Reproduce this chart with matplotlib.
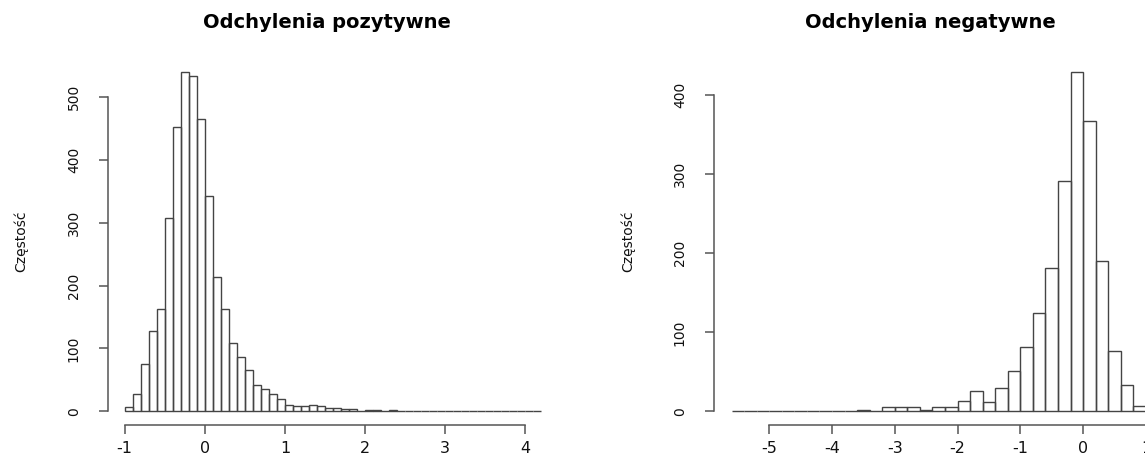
import numpy as np
import matplotlib
matplotlib.use('Agg')
import matplotlib.pyplot as plt

plt.rcParams['axes.unicode_minus'] = False # R prints a plain hyphen

# counts
pos_start = -1.0 # first break, positive deviations
pos_width = 0.1 # bin width
pos_counts = [7, 28, 75, 127, 163, 307, 452, 540, 533, 465,
              342, 214, 163, 109, 86, 66, 42, 36, 27, 19,
              10, 9, 9, 10, 8, 6, 5, 4, 4, 1,
              2, 3, 1, 3, 1, 1, 0, 0, 0, 1,
              0, 0, 0, 0, 1, 0, 1, 0, 0, 1,
              0, 1]
pos_xticks = [-1, 0, 1, 2, 3, 4]
pos_yticks = [0, 100, 200, 300, 400, 500]

neg_start = -5.6 # first break, negative deviations
neg_width = 0.2
neg_counts = [1, 0, 0, 0, 1, 1, 1, 0, 0, 1,
              2, 0, 6, 5, 5, 2, 5, 6, 13, 26,
              12, 29, 51, 81, 124, 182, 292, 430, 368, 190,
              76, 33, 7]
neg_xticks = [-5, -4, -3, -2, -1, 0, 1]
neg_yticks = [0, 100, 200, 300, 400]

W, H = 1145, 457
fig = plt.figure(figsize=(W / 100, H / 100), dpi=100)

line_col = '#444444'
tick_col = '#555555'


def r_hist(rect, start, width, counts, xticks, yticks, brk_end):
    ax = fig.add_axes(rect)
    edges = start + width * np.arange(len(counts))
    ax.bar(edges, counts, width=width, align='edge', fill=False,
           edgecolor=line_col, linewidth=1.0)
    # R style limits: 4% extension of the break range and of the max count
    lo, hi = start, brk_end
    ext = 0.04 * (hi - lo)
    ax.set_xlim(lo - ext, hi + ext)
    ax.set_ylim(-0.04 * max(counts), 1.04 * max(counts))
    for s in ['top', 'right']:
        ax.spines[s].set_visible(False)
    ax.spines['left'].set_bounds(yticks[0], yticks[-1])
    ax.spines['bottom'].set_bounds(xticks[0], xticks[-1])
    for s in ['left', 'bottom']:
        ax.spines[s].set_color(tick_col)
        ax.spines[s].set_linewidth(1.1)
    ax.set_xticks(xticks)
    ax.set_yticks(yticks)
    ax.tick_params(axis='both', length=6.5, width=1.1, color=tick_col,
                   labelcolor='#111111')
    ax.tick_params(axis='x', pad=5, labelsize=11.5)
    ax.tick_params(axis='y', pad=13, labelsize=10, labelrotation=90)
    for lab in ax.get_yticklabels():
        lab.set_va('center')
    return ax


r_hist([108 / W, 32 / H, 450 / W, 367 / H], pos_start, pos_width,
       pos_counts, pos_xticks, pos_yticks, 4.2)
r_hist([714 / W, 32 / H, 474.6 / W, 367 / H], neg_start, neg_width,
       neg_counts, neg_xticks, neg_yticks, 1.4)

# titles and axis labels placed like the R device output
fig.text(327 / W, 1 - 23 / H, 'Odchylenia pozytywne', ha='center', va='center',
         fontsize=14, fontweight='bold')
fig.text(930 / W, 1 - 23 / H, 'Odchylenia negatywne', ha='center', va='center',
         fontsize=14, fontweight='bold')
fig.text(21 / W, 1 - 241 / H, 'Częstość', rotation=90, ha='center', va='center',
         fontsize=10, color='#111111')
fig.text(628 / W, 1 - 241 / H, 'Częstość', rotation=90, ha='center', va='center',
         fontsize=10, color='#111111')

fig.savefig('out.png', dpi=100)
